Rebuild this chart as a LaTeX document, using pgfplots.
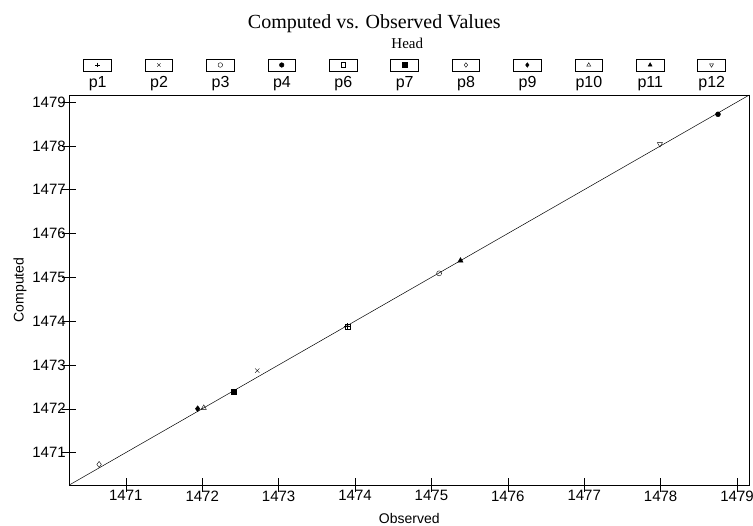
\documentclass[border=0pt]{standalone}
\usepackage{fontspec}
\setmainfont{Liberation Serif}
\newfontfamily\arial{Liberation Sans}
\usepackage{pgfplots}
\pgfplotsset{compat=1.18}
\begin{document}
\begin{tikzpicture}
\begin{axis}[
  scale only axis, width=680pt, height=390pt,
  xmin=1470.26, xmax=1479.16, ymin=1470.26, ymax=1479.16,
  axis line style={black, line width=0.6pt},
  xtick={1471,1472,...,1479}, ytick={1471,1472,...,1479},
  minor tick num=4,
  tick align=inside,
  major tick length=7pt, minor tick length=7pt,
  tick style={black, line width=0.5pt},
  xtick pos=left, ytick pos=left,
  extra x ticks={1471,1472,1473,1474,1475,1476,1477,1478,1479},
  extra y ticks={1471,1472,1473,1474,1475,1476,1477,1478,1479},
  extra x tick label={\empty}, extra y tick label={\empty},
  extra tick style={tick align=outside, major tick length=7pt},
  ticklabel style={font=\arial\fontsize{15}{18}\selectfont},
  /pgf/number format/assume math mode=true,
  /pgf/number format/1000 sep={},
  xticklabel style={yshift=-2pt},
  xlabel={Observed}, ylabel={Computed},
  label style={font=\arial\fontsize{14}{16}\selectfont},
  xlabel style={yshift=2pt},
  ylabel style={yshift=-8pt},
  title={Computed vs. Observed Values},
  title style={font=\fontsize{20}{24}\selectfont, at={(rel axis cs:0.5,1)}, anchor=base, yshift=60pt, xshift=-35pt},
  legend columns=11, legend cell align=left,
  legend style={at={(rel axis cs:0.493,1.0295)}, anchor=center, draw=none, fill=none, inner sep=0pt,
    nodes={inner sep=0pt, text width=40pt, align=center, text height=10.7pt, text depth=3.2pt, font=\arial\fontsize{16}{18}\selectfont},
    /tikz/every odd column/.append style={column sep=0pt},
    /tikz/every even column/.append style={column sep=21pt}},
  legend image code/.code={
    \path (0pt,0pt);
    \draw[black, line width=0.5pt, fill=white, overlay] (6.2pt,12.5pt) rectangle (33.8pt,24.5pt);
    \draw[#1, mark size=2.3pt, overlay] plot coordinates {(20pt,18.5pt)};
  },
]
\addplot[black, line width=0.5pt, forget plot] coordinates {(1470.26,1470.26) (1479.16,1479.16)};

\addplot[black, only marks, mark=+, mark size=3pt] coordinates {(1473.90,1473.88)};
\addlegendentry{p1}
\addplot[black, only marks, mark=x, mark size=3pt] coordinates {(1472.72,1472.87)};
\addlegendentry{p2}
\addplot[black, only marks, mark=o, mark size=2.5pt] coordinates {(1475.10,1475.09)};
\addlegendentry{p3}
\addplot[black, only marks, mark=*, mark size=2.5pt] coordinates {(1478.75,1478.72)};
\addlegendentry{p4}
\addplot[black, only marks, mark=square, mark size=2.5pt] coordinates {(1473.90,1473.87)};
\addlegendentry{p6}
\addplot[black, only marks, mark=square*, mark size=2.5pt] coordinates {(1472.41,1472.39)};
\addlegendentry{p7}
\addplot[black, only marks, mark=diamond, mark size=3pt] coordinates {(1470.65,1470.73)};
\addlegendentry{p8}
\addplot[black, only marks, mark=diamond*, mark size=3pt] coordinates {(1471.94,1472.00)};
\addlegendentry{p9}
\addplot[black, only marks, mark=triangle, mark size=3pt] coordinates {(1472.02,1472.02)};
\addlegendentry{p10}
\addplot[black, only marks, mark=triangle*, mark size=3pt] coordinates {(1475.38,1475.38)};
\addlegendentry{p11}
\addplot[black, only marks, mark=triangle, mark size=3pt, mark options={rotate=180}] coordinates {(1477.99,1478.04)};
\addlegendentry{p12}
\end{axis}
\node[font=\fontsize{15}{18}\selectfont, anchor=base] at ([yshift=46pt, xshift=-2pt]current axis.north) {Head};
\pgfresetboundingbox
\path ([shift={(-69.3pt,-41pt)}]current axis.south west) rectangle ([shift={(3.7pt,95pt)}]current axis.north east);
\end{tikzpicture}
\end{document}
